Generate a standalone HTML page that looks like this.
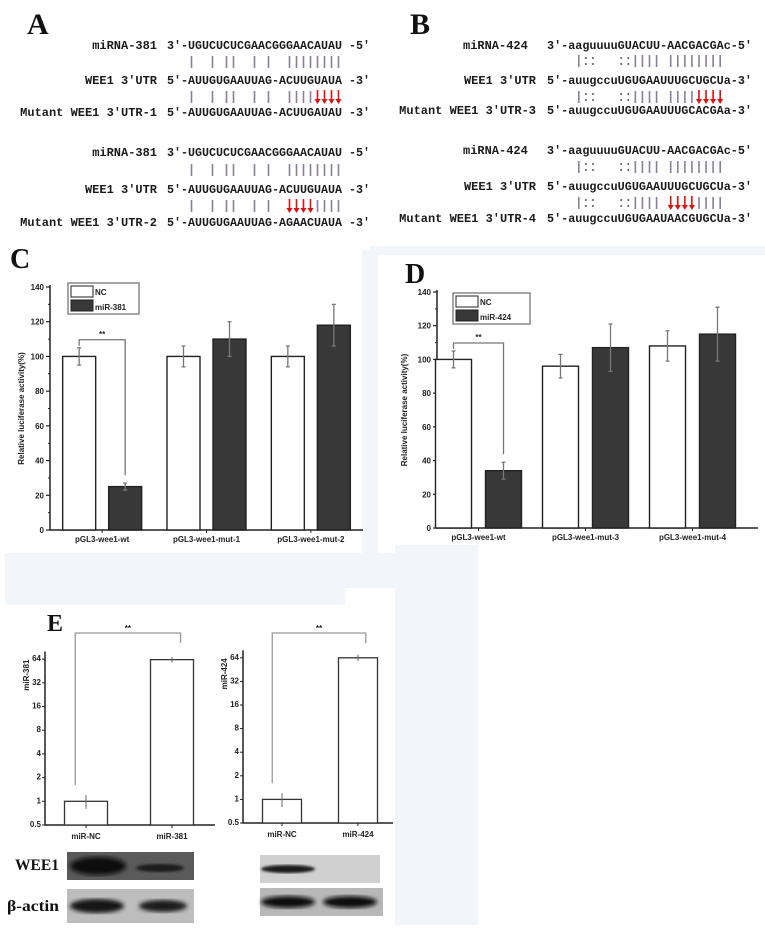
<!DOCTYPE html>
<html><head><meta charset="utf-8"><style>
html,body{margin:0;padding:0;background:#fff}
svg{display:block}
.seq{font-family:"Liberation Mono",monospace;font-size:12px;fill:#1a1a1a;font-weight:bold}
.lbl{font-family:"Liberation Mono",monospace;font-size:12px;fill:#1a1a1a;font-weight:bold}
.tick{font-family:"Liberation Sans",sans-serif;font-size:8px;font-weight:bold;fill:#222}
.cat{font-family:"Liberation Sans",sans-serif;font-size:8px;font-weight:bold;fill:#222}
.pl{font-family:"Liberation Serif",serif;font-weight:bold;fill:#111}
</style></head><body>
<svg id="fig" width="765" height="930" viewBox="0 0 765 930">
<defs>
<filter id="blur1"><feGaussianBlur stdDeviation="2"/></filter>
<filter id="blur2"><feGaussianBlur stdDeviation="1.2"/></filter>
</defs>
<g fill="#f2f5f9">
<rect x="362" y="250" width="16" height="305"/>
<rect x="370" y="246" width="395" height="9"/>
<rect x="5" y="553" width="470" height="35"/>
<rect x="5" y="588" width="340" height="17"/>
<rect x="395" y="545" width="83" height="380"/>
</g>
<g id="panelA"></g>
<g id="panelB"></g>
<g id="panelC"></g>
<g id="panelD"></g>
<g id="panelE"></g>
<g id="blots">
<text class="pl" x="15" y="870" font-size="16" textLength="44" lengthAdjust="spacingAndGlyphs">WEE1</text>
<text class="pl" x="7" y="911" font-size="16" textLength="52" lengthAdjust="spacingAndGlyphs">β-actin</text>
<g>
<rect x="67" y="852" width="127" height="28" fill="#5a5a5a"/>
<ellipse cx="98" cy="866" rx="28" ry="9" fill="#0c0c0c" filter="url(#blur1)"/>
<ellipse cx="160" cy="868" rx="24" ry="4" fill="#1a1a1a" filter="url(#blur2)"/>
</g>
<g>
<rect x="67" y="889" width="127" height="34" fill="#bdbdbd"/>
<ellipse cx="97" cy="906" rx="27" ry="7" fill="#151515" filter="url(#blur1)"/>
<ellipse cx="163" cy="906" rx="24" ry="6" fill="#1c1c1c" filter="url(#blur1)"/>
</g>
<g>
<rect x="260" y="855" width="120" height="28" fill="#d0d0d0"/>
<ellipse cx="288" cy="869" rx="27" ry="4" fill="#1a1a1a" filter="url(#blur2)"/>
</g>
<g>
<rect x="260" y="888" width="123" height="28" fill="#b8b8b8"/>
<ellipse cx="288" cy="902" rx="27" ry="6" fill="#111" filter="url(#blur1)"/>
<ellipse cx="350" cy="902" rx="27" ry="6" fill="#111" filter="url(#blur1)"/>
</g>
</g>
</svg>
<script>
// ---------- Panel C data ----------
const catsC = ["pGL3-wee1-wt","pGL3-wee1-mut-1","pGL3-wee1-mut-2"];
const ncC = [100,100,100];
const ncErrC = [5,6,6];
const mirC = [25,110,118];
const mirErrC = [2,10,12];
// ---------- Panel D data ----------
const catsD = ["pGL3-wee1-wt","pGL3-wee1-mut-3","pGL3-wee1-mut-4"];
const ncD = [100,96,108];
const ncErrD = [5,7,9];
const mirD = [34,107,115];
const mirErrD = [5,14,16];
const yTicksCD = [0,20,40,60,80,100,120,140];
// ---------- Panel E data ----------
const catsE1 = ["miR-NC","miR-381"];
const valsE1 = [1,63];
const errE1 = [0.2,5];
const catsE2 = ["miR-NC","miR-424"];
const valsE2 = [1,64];
const errE2 = [0.2,6];
const yTicksE = [0.5,1,2,4,8,16,32,64];

const NS="http://www.w3.org/2000/svg";
function mk(parent,tag,attrs,txt){const e=document.createElementNS(NS,tag);for(const k in attrs)e.setAttribute(k,attrs[k]);if(txt!==undefined)e.textContent=txt;parent.appendChild(e);return e;}

// ---------- Sequence panels ----------
function seqPanel(g,letter,lx,ly,rows,labelX,labelAnchor,seqX,seqW){
  const L=mk(g,'text',{class:'pl',x:lx,y:ly,'font-size':'30'},letter);
  
  
  const cw=seqW/29;
  rows.forEach(r=>{
    if(r.type==='seq'){
      const lxx=r.lx!==undefined?r.lx:labelX;
      const anc=r.anchor||labelAnchor;
      const t=mk(g,'text',{class:'lbl',x:lxx,y:r.y+4,'text-anchor':anc},r.label);
      
      
      const s=mk(g,'text',{class:'seq',x:seqX,y:r.y+4,textLength:seqW,lengthAdjust:'spacingAndGlyphs'},r.s);
      
      
    } else {
      r.marks.forEach((m,i)=>{
        if(m===' ')return;
        const cx=seqX+(i+0.5)*cw;
        if(m==='|'){const l=mk(g,'line',{x1:cx,x2:cx,y1:r.y-6,y2:r.y+6,stroke:'#8a7f98','stroke-width':1.6});
          }
        else if(m===':'){[-3,3].forEach(d=>{const c=mk(g,'circle',{cx:cx,cy:r.y+d,r:1,fill:'#555'});
          });}
        else if(m==='v'){const a=mk(g,'g',{});
          
          mk(a,'line',{x1:cx,x2:cx,y1:r.y-7,y2:r.y+3,stroke:'#e01010','stroke-width':1.6});
          mk(a,'path',{d:`M${cx-3},${r.y+2} L${cx+3},${r.y+2} L${cx},${r.y+7} Z`,fill:'#e01010'});}
      });
    }
  });
}
function marks(spec){const a=[];for(let i=0;i<30;i++)a.push(' ');spec.forEach(([i,c])=>a[i]=c);return a;}
function range(a,b,c){const r=[];for(let i=a;i<=b;i++)r.push([i,c]);return r;}
const pA=[[3,'|'],[6,'|'],[8,'|'],[9,'|'],[12,'|'],[14,'|']];
seqPanel(document.getElementById('panelA'),'A',27,34,[
 {type:'seq',y:45,label:"miRNA-381",s:"3'-UGUCUCUCGAACGGGAACAUAU -5'"},
 {type:'m',y:62,marks:marks(pA.concat(range(17,24,'|')))},
 {type:'seq',y:80,label:"WEE1 3'UTR",s:"5'-AUUGUGAAUUAG-ACUUGUAUA -3'"},
 {type:'m',y:97,marks:marks(pA.concat(range(17,20,'|'),range(21,24,'v')))},
 {type:'seq',y:112,label:"Mutant WEE1 3'UTR-1",s:"5'-AUUGUGAAUUAG-ACUUGAUAU -3'"},
 {type:'seq',y:152,label:"miRNA-381",s:"3'-UGUCUCUCGAACGGGAACAUAU -5'"},
 {type:'m',y:170,marks:marks(pA.concat(range(17,24,'|')))},
 {type:'seq',y:189,label:"WEE1 3'UTR",s:"5'-AUUGUGAAUUAG-ACUUGUAUA -3'"},
 {type:'m',y:206,marks:marks(pA.concat(range(17,20,'v'),range(21,24,'|')))},
 {type:'seq',y:222,label:"Mutant WEE1 3'UTR-2",s:"5'-AUUGUGAAUUAG-AGAACUAUA -3'"}
],157,'end',167,203);
const pB=[[4,'|'],[5,':'],[6,':'],[10,':'],[11,':']].concat(range(12,15,'|'));
seqPanel(document.getElementById('panelB'),'B',410,34,[
 {type:'seq',y:45,label:"miRNA-424",s:"3'-aaguuuuGUACUU-AACGACGAc-5'",lx:463,anchor:'start'},
 {type:'m',y:61,marks:marks(pB.concat(range(17,24,'|')))},
 {type:'seq',y:80,label:"WEE1 3'UTR",s:"5'-auugccuUGUGAAUUUGCUGCUa-3'"},
 {type:'m',y:97,marks:marks(pB.concat(range(17,20,'|'),range(21,24,'v')))},
 {type:'seq',y:110,label:"Mutant WEE1 3'UTR-3",s:"5'-auugccuUGUGAAUUUGCACGAa-3'"},
 {type:'seq',y:150,label:"miRNA-424",s:"3'-aaguuuuGUACUU-AACGACGAc-5'",lx:463,anchor:'start'},
 {type:'m',y:167,marks:marks(pB.concat(range(17,24,'|')))},
 {type:'seq',y:186,label:"WEE1 3'UTR",s:"5'-auugccuUGUGAAUUUGCUGCUa-3'"},
 {type:'m',y:203,marks:marks(pB.concat(range(17,20,'v'),range(21,24,'|')))},
 {type:'seq',y:218,label:"Mutant WEE1 3'UTR-4",s:"5'-auugccuUGUGAAUAACGUGCUa-3'"}
],536,'end',547,205);

// ---------- Bar charts C / D ----------
function barChart(g,o){
  const y=v=>o.y0-(v/140)*(o.y0-o.y140);
  const L=mk(g,'text',{class:'pl',x:o.letterX,y:o.letterY,'font-size':'28'},o.letter);
  
  
  const ax=mk(g,'path',{d:`M${o.ax},${o.y140-2} V${o.y0} H${o.xEnd}`,stroke:'#222','stroke-width':1.5,fill:'none'});
  
  yTicksCD.forEach(t=>{
    mk(g,'line',{x1:o.ax-4,x2:o.ax,y1:y(t),y2:y(t),stroke:'#222','stroke-width':1.2});
    const tl=mk(g,'text',{class:'tick',x:o.ax-6,y:y(t)+3,'text-anchor':'end'},t);
    
    if(t<140)mk(g,'line',{x1:o.ax-2,x2:o.ax,y1:y(t+10),y2:y(t+10),stroke:'#222'});
  });
  const yt=mk(g,'text',{class:'tick','font-size':'10.5',transform:`translate(${o.titleX},${(o.y0+o.y140)/2}) rotate(-90)`,'text-anchor':'middle'},'Relative luciferase activity(%)');
  
  const gw=(o.xEnd-o.ax)/3;
  o.cats.forEach((c,i)=>{
    const gc=o.ax+gw*(i+0.5)+o.shift;
    mk(g,'line',{x1:gc,x2:gc,y1:o.y0,y2:o.y0+3,stroke:'#222'});
    const cl=mk(g,'text',{class:'cat',x:gc,y:o.y0+12,'text-anchor':'middle'},c);
    
    [[o.nc,o.ncErr,'#fff',-1],[o.mir,o.mirErr,'#383838',1]].forEach(([vals,errs,fill,side])=>{
      const cx=gc+side*o.gap;
      const b=mk(g,'rect',{x:cx-o.bw/2,y:y(vals[i]),width:o.bw,height:o.y0-y(vals[i]),fill:fill,stroke:'#222','stroke-width':1.4});
      
      const e=mk(g,'path',{d:`M${cx},${y(vals[i]+errs[i])} V${y(vals[i]-errs[i])} M${cx-2},${y(vals[i]+errs[i])} H${cx+2} M${cx-2},${y(vals[i]-errs[i])} H${cx+2}`,stroke:'#777','stroke-width':1.3,fill:'none'});
      
    });
  });
  const gc0=o.ax+gw*0.5+o.shift, xl=gc0-o.gap, xr=gc0+o.gap;
  const top=Math.min(y(o.nc[0]+o.ncErr[0]),y(o.mir[0]))-8;
  const br=mk(g,'path',{d:`M${xl},${y(o.nc[0]+o.ncErr[0])-2} V${top} H${xr} V${y(o.mir[0]+o.mirErr[0])-8}`,stroke:'#777','stroke-width':1.3,fill:'none'});
  
  const st=mk(g,'text',{class:'tick','font-size':'10',x:(xl+xr)/2,y:top-3,'text-anchor':'middle'},'**');
  
  const lg=mk(g,'g',{});
  mk(lg,'rect',{x:o.lgX,y:o.lgY,width:o.lgW,height:31,fill:'#fff',stroke:'#888','stroke-width':1.5});
  mk(lg,'rect',{x:o.lgX+3,y:o.lgY+3,width:22,height:11,fill:'#fff',stroke:'#222'});
  mk(lg,'rect',{x:o.lgX+3,y:o.lgY+17,width:22,height:11,fill:'#383838',stroke:'#222'});
  const t1=mk(lg,'text',{class:'tick','font-size':'10',x:o.lgX+27,y:o.lgY+12},'NC');
  
  const t2=mk(lg,'text',{class:'tick','font-size':'10',x:o.lgX+27,y:o.lgY+27},o.mirName);
  
}
barChart(document.getElementById('panelC'),{letter:'C',letterX:10,letterY:268,ax:50,xEnd:363,y0:530,y140:287,bw:33,gap:23,shift:0,
  cats:catsC,nc:ncC,ncErr:ncErrC,mir:mirC,mirErr:mirErrC,titleX:24,lgX:68,lgY:283,lgW:71,mirName:'miR-381'});
barChart(document.getElementById('panelD'),{letter:'D',letterX:405,letterY:283,ax:437,xEnd:758,y0:528,y140:292,bw:36,gap:25,shift:-12,
  cats:catsD,nc:ncD,ncErr:ncErrD,mir:mirD,mirErr:mirErrD,titleX:407,lgX:453,lgY:293,lgW:77,mirName:'miR-424'});

// ---------- Panel E ----------
function logChart(g,o){
  const y=v=>o.y0-(Math.log2(v)+1)*o.step;
  const ax=mk(g,'path',{d:`M${o.ax},${y(80)} V${o.y0} H${o.xEnd}`,stroke:'#222','stroke-width':1.5,fill:'none'});
  
  yTicksE.forEach(t=>{
    mk(g,'line',{x1:o.ax-3,x2:o.ax,y1:y(t),y2:y(t),stroke:'#222'});
    const tl=mk(g,'text',{class:'tick','font-size':'6',x:o.ax-4,y:y(t)+2,'text-anchor':'end'},t);
    
  });
  const yt=mk(g,'text',{class:'tick','font-size':'8',transform:`translate(${o.ax-16},${y(40)}) rotate(-90)`,'text-anchor':'middle'},o.ylab);
  
  o.cats.forEach((c,i)=>{
    const cx=o.cx[i];
    const b=mk(g,'rect',{x:cx-o.bw/2,y:y(o.vals[i]),width:o.bw,height:o.y0-y(o.vals[i]),fill:'#fff',stroke:'#333','stroke-width':1.3});
    
    mk(g,'path',{d:`M${cx},${y(o.vals[i]+o.errs[i])} V${y(o.vals[i]-o.errs[i])}`,stroke:'#666'});
    mk(g,'line',{x1:cx,x2:cx,y1:o.y0,y2:o.y0+3,stroke:'#222'});
    const cl=mk(g,'text',{class:'cat','font-size':'6.5',x:cx,y:o.y0+14,'text-anchor':'middle'},c);
    
  });
  const xl=o.cx[0]-o.bw*0.25, xr=o.cx[1]+o.bw*0.2;
  const br=mk(g,'path',{d:`M${xl},${y(o.vals[0]+o.errs[0])-10} V${o.brTop} H${xr} V${o.brTop+10}`,stroke:'#999','stroke-width':1.3,fill:'none'});
  
  const st=mk(g,'text',{class:'tick','font-size':'9',x:(xl+xr)/2,y:o.brTop-2,'text-anchor':'middle'},'**');
  
}
const gE=document.getElementById('panelE');
const LE=mk(gE,'text',{class:'pl',x:47,y:631,'font-size':'24'},'E');

logChart(gE,{ax:45,xEnd:215,y0:825,step:23.7,cats:catsE1,vals:valsE1,errs:errE1,cx:[86,172],bw:43,ylab:'miR-381',brTop:633});
logChart(gE,{ax:243,xEnd:393,y0:823,step:23.6,cats:catsE2,vals:valsE2,errs:errE2,cx:[282,358],bw:39,ylab:'miR-424',brTop:633});
</script>
</body></html>
